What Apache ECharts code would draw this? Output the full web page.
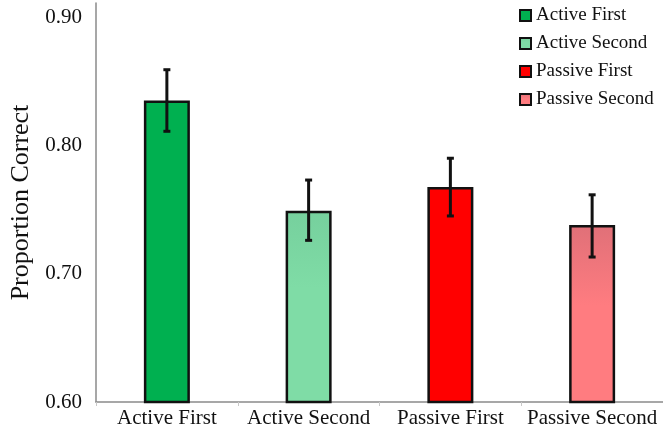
<!DOCTYPE html>
<html>
<head>
<meta charset="utf-8">
<script src="https://cdn.jsdelivr.net/npm/echarts@6/dist/echarts.min.js"></script>
<style>
  html, body { margin: 0; padding: 0; background: #fff; }
  #chart { width: 663px; height: 432px; }
</style>
</head>
<body>
<div id="chart"></div>
<script>
const categories = ['Active First', 'Active Second', 'Passive First', 'Passive Second']
const means = [0.835, 0.749, 0.7675, 0.738]
const errLow = [0.811, 0.726, 0.745, 0.713]
const errHigh = [0.859, 0.773, 0.790, 0.7615]
const yTicks = [0.6, 0.7, 0.8, 0.9]

const serif = 'Liberation Serif'
const colors = [
  '#00b050',
  { type: 'linear', x: 0, y: 0, x2: 0, y2: 1,
    colorStops: [{ offset: 0, color: '#76d09d' }, { offset: 0.4, color: '#7fdca6' }, { offset: 1, color: '#7fdca6' }] },
  '#ff0000',
  { type: 'linear', x: 0, y: 0, x2: 0, y2: 1,
    colorStops: [{ offset: 0, color: '#e07078' }, { offset: 0.45, color: '#ff7c80' }, { offset: 1, color: '#ff7c80' }] }
]

const chart = echarts.init(document.getElementById('chart'))

const barSeries = categories.map(function(name, i) {
  return {
    name: name,
    type: 'bar',
    barWidth: 46,
    barGap: '-100%',
    data: means.map(function(v, j) { return j === i ? v : '-' }),
    itemStyle: { color: colors[i], borderColor: '#111', borderWidth: 2.5 },
    emphasis: { disabled: true }
  }
})

const errSeries = {
  type: 'custom',
  name: 'err',
  z: 10,
  data: categories.map(function(c, i) { return [i, errLow[i], errHigh[i]] }),
  renderItem: function(params, api) {
    const lo = api.coord([api.value(0), api.value(1)])
    const hi = api.coord([api.value(0), api.value(2)])
    const x = lo[0]
    const cap = 3.5
    const style = { stroke: '#111', lineWidth: 3 }
    return {
      type: 'group',
      children: [
        { type: 'line', shape: { x1: x, y1: lo[1], x2: x, y2: hi[1] }, style: style },
        { type: 'line', shape: { x1: x - cap, y1: lo[1], x2: x + cap, y2: lo[1] }, style: style },
        { type: 'line', shape: { x1: x - cap, y1: hi[1], x2: x + cap, y2: hi[1] }, style: style }
      ]
    }
  }
}

chart.setOption({
  animation: false,
  grid: { left: 94, right: 0, top: 3, bottom: 30 },
  legend: {
    data: categories,
    orient: 'vertical',
    left: 519,
    top: 6,
    padding: 0,
    icon: 'rect',
    itemWidth: 11,
    itemHeight: 11,
    itemGap: 9,
    textStyle: { fontFamily: serif, fontSize: 19, color: '#111' }
  },
  xAxis: {
    type: 'category',
    data: categories,
    axisLine: { lineStyle: { color: '#8a8a8a', width: 1.5 } },
    axisTick: { show: true, interval: 0, length: 4, lineStyle: { color: '#c8c8c8' } },
    axisLabel: { interval: 0, fontFamily: serif, fontSize: 21, color: '#111', margin: 6 }
  },
  yAxis: {
    type: 'value',
    min: 0.6,
    max: 0.911,
    interval: 0.1,
    name: 'Proportion Correct',
    nameLocation: 'middle',
    nameGap: 62,
    nameTextStyle: { fontFamily: serif, fontSize: 26, color: '#111' },
    axisLine: { show: true, lineStyle: { color: '#8a8a8a', width: 1.5 } },
    axisTick: { show: false },
    splitLine: { show: false },
    axisLabel: {
      fontFamily: serif, fontSize: 21, color: '#111', margin: 14,
      formatter: function(v) {
        return yTicks.some(function(t) { return Math.abs(t - v) < 1e-6 }) ? v.toFixed(2) : ''
      }
    }
  },
  series: barSeries.concat([errSeries])
})
</script>
</body>
</html>
